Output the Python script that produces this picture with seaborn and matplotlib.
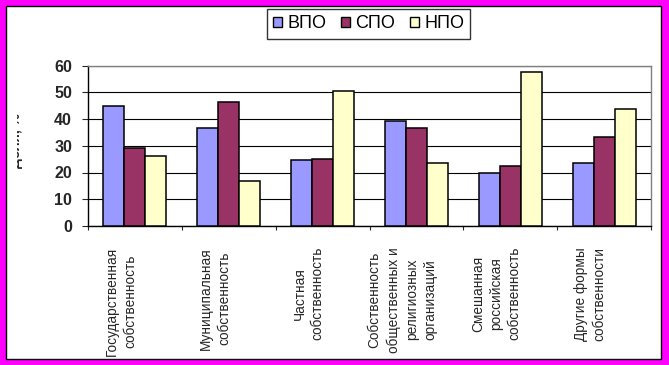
import numpy as np
import pandas as pd
import matplotlib
matplotlib.use("Agg")
import matplotlib.pyplot as plt
import matplotlib.transforms as mtransforms
from matplotlib.patches import Patch, Rectangle
import seaborn as sns

# data
categories = [
    "Государственная\nсобственность",
    "Муниципальная\nсобственность",
    "Частная\nсобственность",
    "Собственность\nобщественных и\nрелигиозных\nорганизаций",
    "Смешанная\nроссийская\nсобственность",
    "Другие формы\nсобственности",
]
series = ["ВПО", "СПО", "НПО"]
vpo = [45.0, 36.8, 24.5, 39.4, 20.0, 23.4]
spo = [29.0, 46.5, 25.2, 36.8, 22.3, 33.1]
npo = [26.0, 16.7, 50.6, 23.7, 57.5, 43.9]
colors = ["#9999FF", "#993366", "#FFFFCC"]
y_ticks = [0, 10, 20, 30, 40, 50, 60]
y_label = "Доля, %"

df = pd.DataFrame({
    "category": categories * 3,
    "series": [s for s in series for _ in categories],
    "value": vpo + spo + npo,
})

sns.set_style("white")
plt.rcParams["font.family"] = ["Liberation Sans", "DejaVu Sans"]

W, H = 669, 365
fig = plt.figure(figsize=(W / 100, H / 100), dpi=100)
fig.patch.set_facecolor("#FF00FF")
fig.patches.append(Rectangle((6 / W, 6 / H), 655 / W, 353 / H, transform=fig.transFigure,
                             facecolor="white", edgecolor="black", linewidth=1, zorder=-10))

ax = fig.add_axes([88 / W, 1 - 226 / H, 563 / W, 160.5 / H])
ax.set_zorder(2)
ax.set_facecolor("white")
sns.barplot(data=df, x="category", y="value", hue="series", order=categories,
            hue_order=series, palette=dict(zip(series, colors)), saturation=1,
            width=0.67, edgecolor="black", linewidth=1.1, legend=False, ax=ax, zorder=3)

ax.set_ylim(0, 60)
ax.set_xlim(-0.5, len(categories) - 0.5)
ax.set_yticks(y_ticks)
ax.set_yticklabels([str(v) for v in y_ticks], fontsize=11.5, fontweight="bold")
ax.yaxis.grid(True, color="black", linewidth=0.8, zorder=0)
ax.set_axisbelow(True)
ax.set_xlabel("")
ax.set_ylabel("")

for side in ["top", "right"]:
    ax.spines[side].set_color("#808080")
    ax.spines[side].set_linewidth(1)
for side in ["left", "bottom"]:
    ax.spines[side].set_color("black")
    ax.spines[side].set_linewidth(1)

ax.tick_params(axis="y", direction="out", length=4.5, width=0.8, pad=7, left=True)
ax.set_xticks(range(len(categories)))
ax.set_xticks(np.arange(-0.5, len(categories), 1.0), minor=True)
ax.tick_params(axis="x", which="major", length=0, pad=15)
ax.tick_params(axis="x", which="minor", direction="out", length=3, width=0.8, bottom=True)
ax.set_xticklabels(categories, rotation=90, fontsize=9.8, va="top", ha="center",
                   multialignment="center", linespacing=1.4)
shift = mtransforms.ScaledTranslation(-14 / 100, 0, fig.dpi_scale_trans)
for lbl in ax.get_xticklabels():
    lbl.set_transform(lbl.get_transform() + shift)

handles = [Patch(facecolor=c, edgecolor="black", linewidth=1) for c in colors]
leg = fig.legend(handles, series, loc="center", bbox_to_anchor=(368.5 / W, 1 - 24 / H),
                 ncol=3, fontsize=13, frameon=True, fancybox=False, shadow=False,
                 handlelength=0.5, handleheight=0.5, handletextpad=0.3,
                 columnspacing=0.8, borderpad=0.35)
leg.get_frame().set_edgecolor("black")
leg.get_frame().set_linewidth(1)
for txt in leg.get_texts():
    txt.set_color("black")

# y-axis title is cut off in the original, only slivers show
t = fig.text(23 / W, 1 - 140 / H, y_label, rotation=90, ha="right", va="center",
             fontsize=10, fontweight="bold")
t.set_clip_box(mtransforms.TransformedBbox(
    mtransforms.Bbox.from_extents(17 / W, 0, 1, 1), fig.transFigure))
t.set_clip_on(True)

fig.savefig("out.png", dpi=100, facecolor=fig.get_facecolor())
